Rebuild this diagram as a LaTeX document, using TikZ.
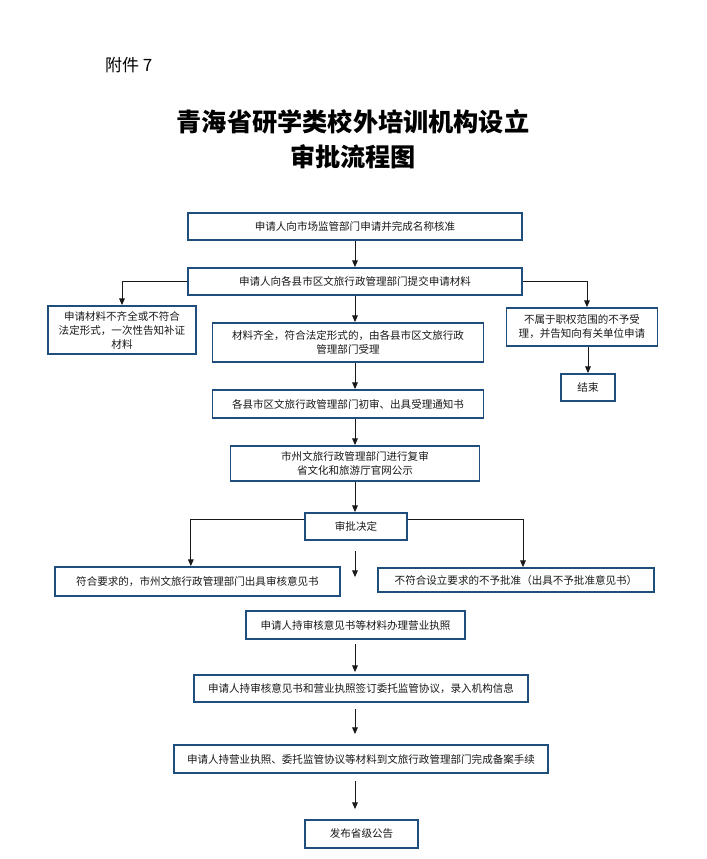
\documentclass[tikz,border=0pt]{standalone}
\usepackage{fontspec}
\setmainfont{Noto Sans CJK SC}
\usetikzlibrary{arrows.meta, positioning, calc}
\definecolor{boxblue}{HTML}{1F4E7D}
\tikzset{
    stepbox/.style={draw=boxblue, line width=1.6pt, fill=white, align=center, inner sep=1pt, text=black!90, font=\fontsize{9pt}{12pt}\selectfont},
    boxwh/.style 2 args={minimum width=#1*0.03cm, minimum height=#2*0.03cm},
    flowarrow/.style={->, line width=0.7pt, black!90},
}

\begin{document}
\begin{tikzpicture}[
    x=0.03cm, y=-0.03cm,
    >={Triangle[length=2mm, width=1.7mm]},
]
\useasboundingbox (0,0) rectangle (707,859);
\fill[white] (0,0) rectangle (707,859);

\node[anchor=west, font=\fontsize{14.5pt}{16pt}\selectfont] (annex) at (101,65) {附件 7};
\node[align=center, font=\fontsize{21.5pt}{29.8pt}\selectfont\bfseries] (title) at (353,139.5) {青海省研学类校外培训机构设立\\审批流程图};

\coordinate (trunk) at (355,0);
\node[stepbox, boxwh={334}{27}] (namecheck) at (355,226.5) {申请人向市场监管部门申请并完成名称核准};
\node[stepbox, boxwh={334}{27}] (submit) at (355,281.5) {申请人向各县市区文旅行政管理部门提交申请材料};
\node[stepbox, boxwh={148}{48}] (incomplete) at (122,330) {申请材料不齐全或不符合\\法定形式，一次性告知补证\\材料};
\node[stepbox, boxwh={271}{39}] (accept) at (348,342.5) {材料齐全，符合法定形式的，由各县市区文旅行政\\管理部门受理};
\node[stepbox, boxwh={151}{38}] (outscope) at (582,327) {不属于职权范围的不予受\\理，并告知向有关单位申请};
\node[stepbox, boxwh={54}{27}] (finish) at (588,387.5) {结束};
\node[stepbox, boxwh={271}{28}] (prelim) at (348,404) {各县市区文旅行政管理部门初审、出具受理通知书};
\node[stepbox, boxwh={249}{35}] (review) at (355,463.5) {市州文旅行政管理部门进行复审\\省文化和旅游厅官网公示};
\node[stepbox, boxwh={102}{27}] (decide) at (356,526.5) {审批决定};
\node[stepbox, boxwh={285}{29}] (approve) at (197.5,581.5) {符合要求的，市州文旅行政管理部门出具审核意见书};
\node[stepbox, boxwh={276}{24}] (deny) at (516,580) {不符合设立要求的不予批准（出具不予批准意见书）};
\node[stepbox, boxwh={219}{28}] (license) at (355.5,625) {申请人持审核意见书等材料办理营业执照};
\node[stepbox, boxwh={334}{27}] (contract) at (361,688.5) {申请人持审核意见书和营业执照签订委托监管协议，录入机构信息};
\node[stepbox, boxwh={374}{28}] (filing) at (361,759) {申请人持营业执照、委托监管协议等材料到文旅行政管理部门完成备案手续};
\node[stepbox, boxwh={113}{28}] (notice) at (361.5,834) {发布省级公告};

% acceptance stage
\draw[flowarrow] (namecheck.south -| trunk) -- (submit.north -| trunk);
\draw[flowarrow] (submit.west) -| (incomplete.north);
\draw[flowarrow] (submit.east) -| ([xshift=0.15cm]outscope.north);
\draw[flowarrow] (submit.south -| trunk) -- (accept.north -| trunk);
\draw[flowarrow] (outscope.south -| finish) -- (finish.north);
\draw[flowarrow] (accept.south -| trunk) -- (prelim.north -| trunk);
\draw[flowarrow] (prelim.south -| trunk) -- (review.north -| trunk);
\draw[flowarrow] (review.south -| trunk) -- (decide.north -| trunk);

% decision
\draw[flowarrow] ([yshift=0.2cm]decide.west) -| ([xshift=-0.2cm]approve.north);
\draw[flowarrow] ([yshift=0.2cm]decide.east) -| ([xshift=0.21cm]deny.north);
\draw[flowarrow, shorten <=0.3cm, shorten >=0.99cm] (decide.south -| trunk) -- (license.north -| trunk);

% after approval
\draw[flowarrow, shorten <=0.12cm, shorten >=0.06cm] (license.south -| trunk) -- (contract.north -| trunk);
\draw[flowarrow, shorten <=0.18cm, shorten >=0.3cm] (contract.south -| trunk) -- (filing.north -| trunk);
\draw[flowarrow, shorten <=0.21cm, shorten >=0.3cm] (filing.south -| trunk) -- (notice.north -| trunk);
\end{tikzpicture}
\end{document}
